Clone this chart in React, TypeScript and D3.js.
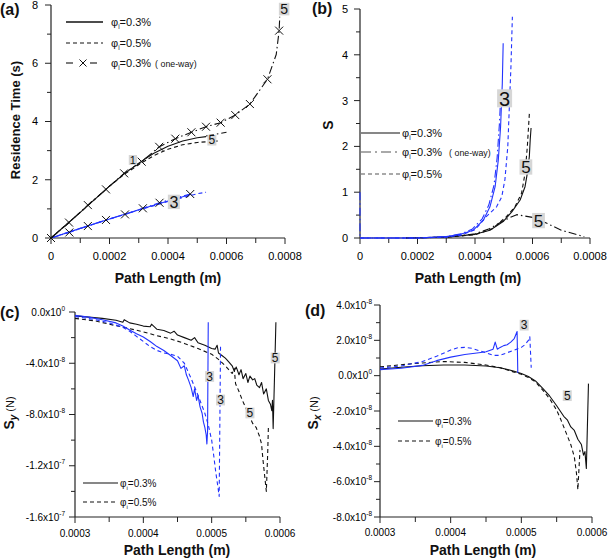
import React from "react";
import * as d3 from "d3";

type Pt = [number, number];

// ---------------- (a) Residence time (s) vs path length (m) ----------------
const aSolid5: Pt[] = [[0, 0], [0.0001, 0.88], [0.0002, 1.78], [0.00025, 2.2], [0.0003, 2.57], [0.00035, 2.9], [0.0004, 3.15], [0.00045, 3.33], [0.0005, 3.44], [0.00053, 3.48]];
const aDash5: Pt[] = [[0, 0], [0.0001, 0.88], [0.0002, 1.78], [0.00025, 2.18], [0.0003, 2.52], [0.00035, 2.82], [0.0004, 3.05], [0.00045, 3.2], [0.0005, 3.28], [0.00057, 3.33]];
const aTail5: Pt[] = [[0.00053, 3.5], [0.0006, 3.63]];
const aOneWay5: Pt[] = [[0, 0], [0.0000616, 0.53], [0.000126, 1.13], [0.000188, 1.67], [0.00025, 2.22], [0.00031, 2.62], [0.00037, 3.13], [0.000425, 3.41], [0.00048, 3.63], [0.00053, 3.82], [0.00058, 3.96], [0.00063, 4.22], [0.00068, 4.6], [0.00074, 5.45], [0.00077, 6.3], [0.00078, 7.12], [0.000782, 7.6]];
const aOneWay5Marks: Pt[] = [[0, 0], [0.0000616, 0.53], [0.000126, 1.13], [0.000188, 1.67], [0.00025, 2.22], [0.00031, 2.62], [0.00037, 3.13], [0.000425, 3.41], [0.00048, 3.63], [0.00053, 3.82], [0.00058, 3.96], [0.00063, 4.22], [0.00068, 4.6], [0.00074, 5.45], [0.00078, 7.12]];
const aSolid3: Pt[] = [[0, 0], [0.0001, 0.33], [0.0002, 0.65], [0.0003, 0.97], [0.0004, 1.27], [0.00048, 1.5]];
const aDash3: Pt[] = [[0, 0], [0.0001, 0.33], [0.0002, 0.65], [0.0003, 0.96], [0.0004, 1.25], [0.0005, 1.52], [0.00053, 1.57]];
const aOneWay3Marks: Pt[] = [[0, 0], [0.0000628, 0.19], [0.000126, 0.41], [0.000188, 0.62], [0.000253, 0.81], [0.000314, 1.02], [0.000371, 1.21], [0.000476, 1.51]];
const aXTicks = [0, 0.0002, 0.0004, 0.0006, 0.0008];
const aXTickText = ["0", "0.0002", "0.0004", "0.0006", "0.0008"];
const aXMinor = [0.0001, 0.0003, 0.0005, 0.0007];
const aYTicks = [0, 2, 4, 6, 8];
const aYMinor = [1, 3, 5, 7];
const aTags = [
  { t: "1", x: 0.00028, y: 2.68, s: 11 },
  { t: "5", x: 0.00055, y: 3.36, s: 12 },
  { t: "3", x: 0.00042, y: 1.24, s: 16 },
  { t: "5", x: 0.000797, y: 7.86, s: 14 },
];

// ---------------- (b) S vs path length ----------------
const bSolid3: Pt[] = [[0, 0], [0.0002, 0.0], [0.0003, 0.03], [0.00035, 0.08], [0.000394, 0.17], [0.000429, 0.39], [0.000452, 0.68], [0.00047, 1.12], [0.000481, 1.7], [0.000489, 2.43], [0.000495, 3.38], [0.000498, 4.25]];
const bOneWay3: Pt[] = [[0, 1.0], [0, 0], [0.0002, 0.0], [0.0003, 0.03], [0.00035, 0.09], [0.00039, 0.19], [0.000425, 0.42], [0.000448, 0.72], [0.000466, 1.15], [0.000477, 1.75], [0.000485, 2.5], [0.000488, 2.9]];
const bDash3: Pt[] = [[0, 0], [0.0002, 0.0], [0.0003, 0.02], [0.00035, 0.06], [0.0004, 0.18], [0.00044, 0.47], [0.000475, 0.68], [0.000493, 0.9], [0.000504, 1.27], [0.000514, 1.99], [0.000519, 2.79], [0.000525, 3.74], [0.00053, 4.83]];
const bSolid5: Pt[] = [[0.00016, 0], [0.0003, 0.02], [0.0004, 0.08], [0.000452, 0.17], [0.000498, 0.36], [0.000528, 0.57], [0.000557, 0.83], [0.000574, 1.12], [0.000582, 1.41], [0.000589, 1.78], [0.000592, 2.14], [0.000595, 2.4]];
const bDash5: Pt[] = [[0.00016, 0], [0.0003, 0.02], [0.0004, 0.07], [0.00046, 0.2], [0.00051, 0.47], [0.000539, 0.68], [0.000562, 0.98], [0.000574, 1.41], [0.000582, 1.99], [0.000589, 2.71]];
const bOneWay5: Pt[] = [[0.00016, 0], [0.0003, 0.02], [0.0004, 0.09], [0.00045, 0.2], [0.0005, 0.38], [0.00053, 0.47], [0.000545, 0.51], [0.0006, 0.45], [0.00065, 0.32], [0.0007, 0.17], [0.00075, 0.08], [0.00078, 0.03]];
const bXTicks = [0, 0.0002, 0.0004, 0.0006, 0.0008];
const bXTickText = ["0", "0.0002", "0.0004", "0.0006", "0.0008"];
const bXMinor = [0.0001, 0.0003, 0.0005, 0.0007];
const bYTicks = [0, 1, 2, 3, 4, 5];
const bYMinor = [0.5, 1.5, 2.5, 3.5, 4.5];
const bTags = [
  { t: "3", x: 0.000503, y: 3.05, s: 20 },
  { t: "5", x: 0.000577, y: 1.55, s: 17 },
  { t: "5", x: 0.000621, y: 0.38, s: 17 },
];

// ---------------- (c) S_y (units of 1e-8 N) ----------------
const cSolid5: Pt[] = [[0.0003, -0.3], [0.00032, -0.4], [0.00034, -0.5], [0.00036, -0.65], [0.00037, -0.8], [0.000372, -0.6], [0.00038, -0.85], [0.00039, -0.95], [0.0004, -1.1], [0.00041, -1.15], [0.000412, -0.95], [0.00042, -1.35], [0.00043, -1.45], [0.00044, -1.65], [0.000445, -1.5], [0.00045, -1.8], [0.00046, -2.0], [0.00047, -2.2], [0.000475, -2.0], [0.00048, -2.4], [0.00049, -2.6], [0.0005, -2.85], [0.000505, -2.9], [0.000508, -2.6], [0.00051, -3.2], [0.000515, -3.4], [0.00052, -3.6], [0.000525, -3.9], [0.00053, -4.2], [0.000533, -4.6], [0.000536, -4.3], [0.00054, -4.9], [0.000543, -4.5], [0.000546, -5.2], [0.00055, -4.8], [0.000553, -5.5], [0.000556, -5.0], [0.00056, -5.3], [0.000563, -5.2], [0.000566, -5.7], [0.00057, -5.9], [0.000573, -5.5], [0.000576, -6.4], [0.00058, -6.0], [0.000583, -6.9], [0.000586, -7.2], [0.000588, -7.7], [0.000589, -6.9], [0.00059, -9.1], [0.000592, -5.0], [0.000594, -0.8]];
const cDash5: Pt[] = [[0.0003, -0.5], [0.00033, -0.7], [0.00035, -0.95], [0.00038, -1.3], [0.0004, -1.55], [0.00042, -1.85], [0.00044, -2.1], [0.00046, -2.45], [0.00048, -2.85], [0.0005, -3.3], [0.00051, -3.7], [0.00052, -4.2], [0.000525, -4.5], [0.00053, -4.8], [0.000533, -4.4], [0.000535, -5.6], [0.00054, -6.2], [0.000545, -6.9], [0.00055, -7.5], [0.000555, -8.1], [0.00056, -8.7], [0.000565, -9.0], [0.00057, -9.7], [0.000573, -10.3], [0.000575, -11.5], [0.000577, -12.5], [0.00058, -14.0], [0.000582, -11.0], [0.000583, -9.0]];
const cSolid3: Pt[] = [[0.0003, -0.25], [0.00032, -0.4], [0.00034, -0.6], [0.00036, -0.85], [0.00037, -1.1], [0.00038, -1.4], [0.00039, -1.7], [0.0004, -1.95], [0.00041, -2.3], [0.00042, -2.7], [0.00043, -3.0], [0.00044, -3.4], [0.00045, -3.8], [0.000455, -4.4], [0.00046, -4.2], [0.000463, -4.9], [0.000466, -5.3], [0.00047, -5.9], [0.000473, -6.6], [0.000475, -6.0], [0.000478, -6.9], [0.00048, -6.5], [0.000483, -7.4], [0.000486, -7.9], [0.000488, -8.6], [0.00049, -9.0], [0.000492, -9.6], [0.000493, -10.3], [0.000494, -9.3], [0.000495, -0.8]];
const cDash3: Pt[] = [[0.0003, -0.35], [0.00033, -0.6], [0.00035, -0.85], [0.00037, -1.2], [0.00038, -1.5], [0.00039, -1.9], [0.0004, -2.3], [0.00041, -2.7], [0.00042, -3.0], [0.00043, -3.2], [0.00044, -3.3], [0.00045, -3.45], [0.00046, -4.0], [0.00047, -5.2], [0.00048, -6.5], [0.000485, -7.2], [0.00049, -7.9], [0.000495, -8.8], [0.0005, -10.0], [0.000503, -11.2], [0.000506, -12.5], [0.000509, -13.6], [0.000511, -14.4], [0.000513, -2.6]];
const cdXTicks = [0.0003, 0.0004, 0.0005, 0.0006];
const cdXTickText = ["0.0003", "0.0004", "0.0005", "0.0006"];
const cdXMinor = [0.00035, 0.00045, 0.00055];
const cYTicks = [0, -4, -8, -12, -16];
const cYMant = ["0.0x10", "-4.0x10", "-8.0x10", "-1.2x10", "-1.6x10"];
const cYExp = ["0", "-8", "-8", "-7", "-7"];
const cYMinor = [-2, -6, -10, -14];
const cTags = [
  { t: "3", x: 0.000497, y: -5.03, s: 12 },
  { t: "3", x: 0.000513, y: -6.87, s: 12 },
  { t: "5", x: 0.000556, y: -7.88, s: 12 },
  { t: "5", x: 0.000593, y: -3.59, s: 12 },
];

// ---------------- (d) S_x (units of 1e-8 N) ----------------
const dSolid5: Pt[] = [[0.0003, 0.38], [0.00033, 0.48], [0.00036, 0.56], [0.00039, 0.6], [0.00042, 0.6], [0.00045, 0.55], [0.00047, 0.45], [0.00049, 0.25], [0.0005, 0.12], [0.00051, -0.05], [0.00052, -0.3], [0.00053, -0.7], [0.00054, -1.15], [0.00055, -1.7], [0.00056, -2.3], [0.000565, -2.5], [0.00057, -2.9], [0.000575, -3.1], [0.00058, -3.6], [0.000585, -3.9], [0.000588, -4.5], [0.00059, -4.3], [0.000592, -5.25], [0.000595, -0.45]];
const dDash5: Pt[] = [[0.0003, 0.5], [0.00033, 0.62], [0.00036, 0.72], [0.00039, 0.8], [0.00042, 0.75], [0.00045, 0.6], [0.00047, 0.45], [0.00049, 0.2], [0.0005, 0.08], [0.00051, -0.1], [0.00052, -0.35], [0.00053, -0.8], [0.00054, -1.3], [0.00055, -1.95], [0.000555, -2.4], [0.00056, -2.9], [0.000565, -3.4], [0.00057, -3.9], [0.000575, -4.6], [0.000578, -5.5], [0.00058, -6.45], [0.000583, -4.2]];
const dSolid3: Pt[] = [[0.0003, 0.34], [0.00033, 0.42], [0.00036, 0.58], [0.00038, 0.85], [0.0004, 1.05], [0.00042, 1.2], [0.00044, 1.3], [0.00045, 1.35], [0.00046, 1.5], [0.000463, 1.9], [0.000466, 1.5], [0.00047, 1.6], [0.000475, 1.7], [0.00048, 1.75], [0.000485, 1.9], [0.00049, 2.1], [0.000494, 2.5], [0.000495, 0.15]];
const dDash3: Pt[] = [[0.0003, 0.43], [0.00033, 0.55], [0.00036, 0.8], [0.00038, 1.1], [0.0004, 1.45], [0.00041, 1.58], [0.00042, 1.6], [0.00043, 1.55], [0.00044, 1.42], [0.00045, 1.3], [0.00046, 1.15], [0.00047, 1.15], [0.00048, 1.3], [0.00049, 1.45], [0.0005, 1.6], [0.000505, 1.75], [0.00051, 2.0], [0.000512, 2.2], [0.000514, 0.45]];
const dYTicks = [4, 2, 0, -2, -4, -6, -8];
const dYMant = ["4.0x10", "2.0x10", "0.0x10", "-2.0x10", "-4.0x10", "-6.0x10", "-8.0x10"];
const dYExp = ["-8", "-8", "0", "-8", "-8", "-8", "-8"];
const dYMinor = [3, 1, -1, -3, -5, -7];
const dTags = [
  { t: "3", x: 0.000504, y: 2.86, s: 12 },
  { t: "5", x: 0.000565, y: -1.13, s: 12 },
];

// ---------------- rendering ----------------
const FONT = "Arial, 'Liberation Sans', Helvetica, sans-serif";
const BLUE = "#2233ff";
const DASH = "4,3";
const DASHDOT = "8,3,1.5,3";

type Scale = d3.ScaleLinear<number, number>;

function Curve({ xs, ys, data, color, dash, w = 1.1 }: { xs: Scale; ys: Scale; data: Pt[]; color: string; dash?: string; w?: number }) {
  const gen = d3.line<Pt>().x((d) => xs(d[0])).y((d) => ys(d[1]));
  return <path d={gen(data) || ""} fill="none" stroke={color} strokeWidth={w} strokeDasharray={dash} strokeLinejoin="round" />;
}

function Marks({ xs, ys, data }: { xs: Scale; ys: Scale; data: Pt[] }) {
  const r = 4;
  return (
    <g stroke="#111" strokeWidth={1}>
      {data.map((d, i) => {
        const x = xs(d[0]), y = ys(d[1]);
        return <path key={i} d={`M${x - r},${y - r}L${x + r},${y + r}M${x - r},${y + r}L${x + r},${y - r}`} />;
      })}
    </g>
  );
}

function Tags({ xs, ys, tags }: { xs: Scale; ys: Scale; tags: { t: string; x: number; y: number; s: number }[] }) {
  return (
    <g>
      {tags.map((g, i) => {
        const cx = xs(g.x), cy = ys(g.y);
        const w = g.s * 0.75, h = g.s * 0.9;
        return (
          <g key={i}>
            <rect x={cx - w / 2} y={cy - h / 2} width={w} height={h} fill="#d6d6d6" />
            <text x={cx} y={cy} dy="0.36em" textAnchor="middle" fontSize={g.s} fontFamily={FONT} fill="#111">{g.t}</text>
          </g>
        );
      })}
    </g>
  );
}

function Axes(p: {
  xs: Scale; ys: Scale; xTicks: number[]; xText: string[]; xMinor: number[];
  yTicks: number[]; yText: React.ReactNode[]; yMinor: number[];
  xDy: number; yDx: number; fs: number;
}) {
  const [xa, xb] = p.xs.range();
  const [yb, ya] = p.ys.range();
  return (
    <g fontFamily={FONT} fontSize={p.fs}>
      <line x1={xa} x2={xb} y1={yb} y2={yb} stroke="#222" strokeWidth={1.2} />
      <line x1={xa} x2={xa} y1={yb} y2={ya} stroke="#222" strokeWidth={1.2} />
      {p.xTicks.map((v, i) => (
        <g key={"xt" + i}>
          <line x1={p.xs(v)} x2={p.xs(v)} y1={yb} y2={yb + 6} stroke="#222" />
          <text x={p.xs(v)} y={yb + p.xDy} textAnchor="middle">{p.xText[i]}</text>
        </g>
      ))}
      {p.xMinor.map((v, i) => (
        <line key={"xm" + i} x1={p.xs(v)} x2={p.xs(v)} y1={yb} y2={yb + 5} stroke="#222" />
      ))}
      {p.yTicks.map((v, i) => (
        <g key={"yt" + i}>
          <line x1={xa - 6} x2={xa} y1={p.ys(v)} y2={p.ys(v)} stroke="#222" />
          <text x={xa - p.yDx} y={p.ys(v)} dy="0.36em" textAnchor="end">{p.yText[i]}</text>
        </g>
      ))}
      {p.yMinor.map((v, i) => (
        <line key={"ym" + i} x1={xa - 4} x2={xa} y1={p.ys(v)} y2={p.ys(v)} stroke="#222" />
      ))}
    </g>
  );
}

function Phi({ x, y, val, fs = 11, extra }: { x: number; y: number; val: string; fs?: number; extra?: { dx: number; t: string } }) {
  return (
    <text x={x} y={y} dy="0.36em" fontFamily={FONT} fontSize={fs} fill="#111">
      φ<tspan fontSize={fs * 0.6} dy={3}>i</tspan><tspan dy={-3}>{"=" + val}</tspan>
      {extra ? <tspan dx={extra.dx} fontSize={fs * 0.8}>{extra.t}</tspan> : null}
    </text>
  );
}

function sup(m: string[], e: string[]) {
  return m.map((s, i) => (
    <>
      {s}
      <tspan fontSize={6.5} dy={-5}>{e[i]}</tspan>
    </>
  ));
}

export default function App() {
  // panel scales
  const axs = d3.scaleLinear().domain([0, 0.0008]).range([51, 285]);
  const ays = d3.scaleLinear().domain([0, 8]).range([238, 5]);
  const bxs = d3.scaleLinear().domain([0, 0.0008]).range([360, 590]);
  const bys = d3.scaleLinear().domain([0, 5]).range([238, 9]);
  const cxs = d3.scaleLinear().domain([0.0003, 0.0006]).range([75, 280]);
  const cys = d3.scaleLinear().domain([-16, 0]).range([517, 312]);
  const dxs = d3.scaleLinear().domain([0.0003, 0.0006]).range([380, 592]);
  const dys = d3.scaleLinear().domain([-8, 4]).range([517, 305]);

  const bold = { fontFamily: FONT, fontWeight: 700 as const, fill: "#111" };

  return (
    <div style={{ position: "absolute", left: 0, top: 0 }}>
      <svg width={609} height={560} viewBox="0 0 609 560" style={{ display: "block", background: "#fff" }}>
        <rect width={609} height={560} fill="#fff" />

        {/* ---------- (a) ---------- */}
        <Axes xs={axs} ys={ays} xTicks={aXTicks} xText={aXTickText} xMinor={aXMinor} yTicks={aYTicks} yText={aYTicks.map(String)} yMinor={aYMinor} xDy={22} yDx={13} fs={11} />
        <Curve xs={axs} ys={ays} data={aOneWay3Marks} color={BLUE} dash={DASHDOT} />
        <Curve xs={axs} ys={ays} data={aDash3} color={BLUE} dash={DASH} />
        <Curve xs={axs} ys={ays} data={aSolid3} color={BLUE} />
        <Marks xs={axs} ys={ays} data={aOneWay3Marks} />
        <Curve xs={axs} ys={ays} data={aDash5} color="#111" dash={DASH} />
        <Curve xs={axs} ys={ays} data={aSolid5} color="#111" />
        <Curve xs={axs} ys={ays} data={aTail5} color="#111" dash={DASHDOT} />
        <Curve xs={axs} ys={ays} data={aOneWay5} color="#111" dash={DASHDOT} />
        <Marks xs={axs} ys={ays} data={aOneWay5Marks} />
        <Tags xs={axs} ys={ays} tags={aTags} />
        <g>
          <line x1={66} x2={103} y1={22} y2={22} stroke="#111" strokeWidth={1.3} />
          <line x1={66} x2={103} y1={43} y2={43} stroke="#111" strokeDasharray={DASH} strokeWidth={1.1} />
          <line x1={66} x2={73} y1={63} y2={63} stroke="#111" strokeWidth={1.1} />
          <line x1={90} x2={97} y1={63} y2={63} stroke="#111" strokeWidth={1.1} />
          <path d="M79.5,59.5L86.5,66.5M79.5,66.5L86.5,59.5" stroke="#111" />
          <Phi x={111} y={22} val="0.3%" />
          <Phi x={111} y={43} val="0.5%" />
          <Phi x={111} y={63} val="0.3%" extra={{ dx: 4, t: "( one-way)" }} />
        </g>
        <text x={0} y={15} fontSize={16} {...bold}>(a)</text>
        <text x={168} y={283} fontSize={14} textAnchor="middle" {...bold}>Path Length (m)</text>
        <text transform="translate(20,120) rotate(-90)" fontSize={13} textAnchor="middle" {...bold}>Residence Time (s)</text>

        {/* ---------- (b) ---------- */}
        <Axes xs={bxs} ys={bys} xTicks={bXTicks} xText={bXTickText} xMinor={bXMinor} yTicks={bYTicks} yText={bYTicks.map(String)} yMinor={bYMinor} xDy={22} yDx={12} fs={11} />
        <Curve xs={bxs} ys={bys} data={bOneWay5} color="#111" dash={DASHDOT} />
        <Curve xs={bxs} ys={bys} data={bDash5} color="#111" dash={DASH} />
        <Curve xs={bxs} ys={bys} data={bSolid5} color="#111" />
        <Curve xs={bxs} ys={bys} data={bOneWay3} color={BLUE} dash={DASHDOT} />
        <Curve xs={bxs} ys={bys} data={bDash3} color={BLUE} dash={DASH} />
        <Curve xs={bxs} ys={bys} data={bSolid3} color={BLUE} />
        <Tags xs={bxs} ys={bys} tags={bTags} />
        <g>
          <line x1={361} x2={400} y1={133} y2={133} stroke="#111" strokeWidth={1.1} />
          <line x1={361} x2={400} y1={152} y2={152} stroke="#555" strokeDasharray="10,4,2,4" strokeWidth={1.1} />
          <line x1={361} x2={400} y1={174} y2={174} stroke="#555" strokeDasharray={DASH} strokeWidth={1.1} />
          <Phi x={402} y={133} val="0.3%" />
          <Phi x={402} y={152} val="0.3%" extra={{ dx: 7, t: "( one-way)" }} />
          <Phi x={402} y={174} val="0.5%" />
        </g>
        <text x={312} y={14} fontSize={16} {...bold}>(b)</text>
        <text x={468} y={283} fontSize={14} textAnchor="middle" {...bold}>Path Length (m)</text>
        <text transform="translate(333,125) rotate(-90)" fontSize={14} textAnchor="middle" {...bold}>S</text>

        {/* ---------- (c) ---------- */}
        <Axes xs={cxs} ys={cys} xTicks={cdXTicks} xText={cdXTickText} xMinor={cdXMinor} yTicks={cYTicks} yText={sup(cYMant, cYExp)} yMinor={cYMinor} xDy={20} yDx={10} fs={10} />
        <Curve xs={cxs} ys={cys} data={cDash5} color="#111" dash={DASH} />
        <Curve xs={cxs} ys={cys} data={cSolid5} color="#111" />
        <Curve xs={cxs} ys={cys} data={cDash3} color={BLUE} dash={DASH} />
        <Curve xs={cxs} ys={cys} data={cSolid3} color={BLUE} />
        <Tags xs={cxs} ys={cys} tags={cTags} />
        <g>
          <line x1={83} x2={118} y1={483} y2={483} stroke="#111" strokeWidth={1.2} />
          <line x1={83} x2={118} y1={502} y2={502} stroke="#111" strokeDasharray={DASH} strokeWidth={1.2} />
          <Phi x={120} y={483} val="0.3%" fs={10} />
          <Phi x={120} y={502} val="0.5%" fs={10} />
        </g>
        <text x={0} y={318} fontSize={16} {...bold}>(c)</text>
        <text x={177} y={555} fontSize={14} textAnchor="middle" {...bold}>Path Length (m)</text>
        <text transform="translate(14,413) rotate(-90)" textAnchor="middle" fontFamily={FONT} fill="#111">
          <tspan fontSize={14} fontWeight={700}>S</tspan>
          <tspan fontSize={10} fontWeight={700} fontStyle="italic" dy={3}>y</tspan>
          <tspan fontSize={11} dy={-3}> (N)</tspan>
        </text>

        {/* ---------- (d) ---------- */}
        <Axes xs={dxs} ys={dys} xTicks={cdXTicks} xText={cdXTickText} xMinor={cdXMinor} yTicks={dYTicks} yText={sup(dYMant, dYExp)} yMinor={dYMinor} xDy={19} yDx={8} fs={10} />
        <Curve xs={dxs} ys={dys} data={dDash5} color="#111" dash={DASH} />
        <Curve xs={dxs} ys={dys} data={dSolid5} color="#111" />
        <Curve xs={dxs} ys={dys} data={dDash3} color={BLUE} dash={DASH} />
        <Curve xs={dxs} ys={dys} data={dSolid3} color={BLUE} />
        <Tags xs={dxs} ys={dys} tags={dTags} />
        <g>
          <line x1={398} x2={433} y1={421} y2={421} stroke="#111" strokeWidth={1.2} />
          <line x1={398} x2={433} y1={441} y2={441} stroke="#111" strokeDasharray={DASH} strokeWidth={1.2} />
          <Phi x={435} y={421} val="0.3%" fs={10} />
          <Phi x={435} y={441} val="0.5%" fs={10} />
        </g>
        <text x={305} y={316} fontSize={16} {...bold}>(d)</text>
        <text x={483} y={555} fontSize={14} textAnchor="middle" {...bold}>Path Length (m)</text>
        <text transform="translate(318,413) rotate(-90)" textAnchor="middle" fontFamily={FONT} fill="#111">
          <tspan fontSize={14} fontWeight={700}>S</tspan>
          <tspan fontSize={10} fontWeight={700} fontStyle="italic" dy={3}>x</tspan>
          <tspan fontSize={11} dy={-3}> (N)</tspan>
        </text>
      </svg>
    </div>
  );
}
